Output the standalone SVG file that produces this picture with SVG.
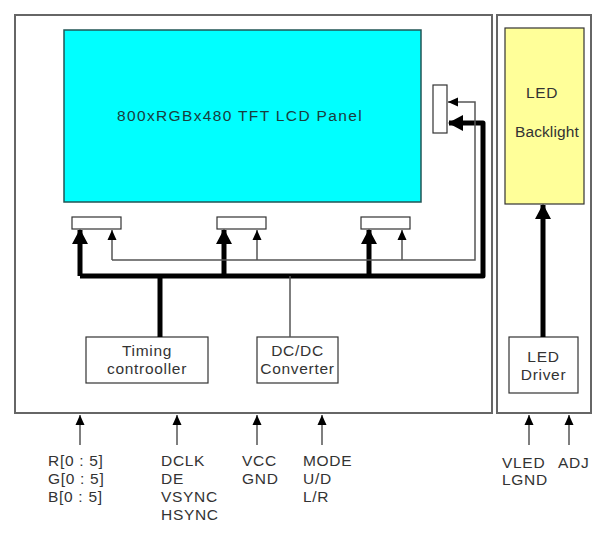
<svg xmlns="http://www.w3.org/2000/svg" width="613" height="535" viewBox="0 0 613 535">
<style>
text{font-family:"Liberation Sans",Arial,sans-serif;font-size:15.5px;fill:#333;letter-spacing:0.7px}
.frame{fill:#fff;stroke:#666;stroke-width:2}
.box{fill:#fff;stroke:#333;stroke-width:1.2}
.thick{fill:none;stroke:#000;stroke-width:5;stroke-linejoin:round}
.thin{fill:none;stroke:#555;stroke-width:1.5}
.c{text-anchor:middle}
</style>
<defs>
<marker id="ah" markerUnits="userSpaceOnUse" markerWidth="15" markerHeight="16" refX="14" refY="8" orient="auto"><path d="M0,0 L15,8 L0,16 Z" fill="#000"/></marker>
<marker id="as" markerUnits="userSpaceOnUse" markerWidth="10" markerHeight="10" refX="10" refY="5" orient="auto"><path d="M0,0.5 L10,5 L0,9.5 Z" fill="#000"/></marker>
</defs>
<g id="main-board"><rect class="frame" x="15" y="15" width="477" height="398"/></g>
<g id="backlight-board"><rect class="frame" x="497" y="15" width="94" height="398"/></g>
<g id="lcd-panel"><rect x="64" y="30" width="357" height="172" fill="#00FFFF" stroke="#225555" stroke-width="1.5"/>
<text x="117" y="121" style="fill:#1a3d3d;letter-spacing:1.35px">800xRGBx480 TFT LCD Panel</text></g>
<g id="conn-1"><rect class="box" x="72" y="217" width="49" height="12"/></g>
<g id="conn-2"><rect class="box" x="217" y="217" width="49" height="12"/></g>
<g id="conn-3"><rect class="box" x="361" y="217" width="49" height="12"/></g>
<g id="conn-4"><rect class="box" x="433" y="85" width="14" height="48"/></g>
<g id="timing-controller"><rect class="box" x="86" y="337" width="122" height="46"/>
<text class="c" x="147" y="356">Timing</text><text class="c" x="147" y="374">controoller</text></g>
<g id="dcdc-converter"><rect class="box" x="257" y="337" width="81" height="46"/>
<text class="c" x="297.5" y="356">DC/DC</text><text class="c" x="297.5" y="374">Converter</text></g>
<g id="led-backlight"><rect x="505" y="28" width="79" height="176" fill="#FFFF99" stroke="#333" stroke-width="1.2"/>
<text x="526" y="98">LED</text><text x="515" y="137" style="letter-spacing:0.1px">Backlight</text></g>
<g id="led-driver"><rect class="box" x="509" y="337" width="69" height="56"/>
<text class="c" x="543.5" y="362">LED</text><text class="c" x="543.5" y="380">Driver</text></g>
<g id="connectors">
<path class="thick" d="M80,276 H483 V123 H449" marker-end="url(#ah)"/>
<path class="thick" d="M80,276 V230" marker-end="url(#ah)"/>
<path class="thick" d="M224,276 V230" marker-end="url(#ah)"/>
<path class="thick" d="M369,276 V230" marker-end="url(#ah)"/>
<path class="thick" d="M160,276 V337"/>
<path class="thin" d="M112,260 H475 V102 H448" marker-end="url(#as)"/>
<path class="thin" d="M112,260 V230" marker-end="url(#as)"/>
<path class="thin" d="M257,260 V230" marker-end="url(#as)"/>
<path class="thin" d="M402,260 V230" marker-end="url(#as)"/>
<path class="thin" d="M290,276 V337"/>
<path class="thick" d="M543,337 V205" marker-end="url(#ah)"/>
<path class="thin" d="M80,445 V415" marker-end="url(#as)"/>
<path class="thin" d="M177,445 V415" marker-end="url(#as)"/>
<path class="thin" d="M257,445 V415" marker-end="url(#as)"/>
<path class="thin" d="M322,445 V415" marker-end="url(#as)"/>
<path class="thin" d="M529,445 V415" marker-end="url(#as)"/>
<path class="thin" d="M569,445 V415" marker-end="url(#as)"/>
</g>
<g id="labels">
<text x="48" y="466">R[0 : 5]</text><text x="48" y="484">G[0 : 5]</text><text x="48" y="502">B[0 : 5]</text>
<text x="161" y="466">DCLK</text><text x="161" y="484">DE</text><text x="161" y="502">VSYNC</text><text x="161" y="520">HSYNC</text>
<text x="242" y="466">VCC</text><text x="242" y="484">GND</text>
<text x="303" y="466">MODE</text><text x="303" y="484">U/D</text><text x="303" y="502">L/R</text>
<text x="502" y="468">VLED</text><text x="502" y="485">LGND</text>
<text x="558" y="468">ADJ</text>
</g>
</svg>
